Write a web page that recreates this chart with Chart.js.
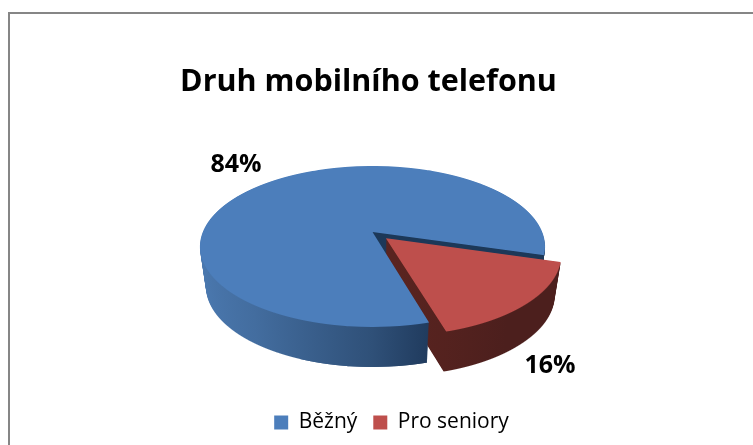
<!DOCTYPE html>
<html><head><meta charset="utf-8">
<style>html,body{margin:0;padding:0;background:#fff}canvas{display:block}</style>
<script src="https://cdn.jsdelivr.net/npm/chart.js@4"></script>
</head><body><canvas id="c" width="753" height="445"></canvas>
<script>
const titleText = 'Druh mobilního telefonu';
const categories = ['Běžný', 'Pro seniory'];
const shares = [84, 16];
const seriesColors = ['#4c7ebb', '#be4f4c'];
const explode = [0, 0.11];

// projection of the flat pie disc onto the tilted 3D view
const view = {x0: 372.5, y0: 232, A: 169.7, B: 77.9, k: 0.18, depth: 40, shrink: 0.035};
const font = '"Open Sans", sans-serif';

function drawRowed(ctx, arc, color, ex, ey, h) {
  const R = arc.outerRadius, W = ctx.canvas.width;
  const y0 = view.y0 + view.depth * h, A = view.A * (1 - view.shrink * h);
  const saved = arc.options, o = Object.create(saved);
  arc.options = o;
  for (let Y = Math.floor(y0 - 75); Y < y0 + 125; Y++) {
    const t = (Y + 0.5 - y0) / view.B, v0 = t / (1 + view.k * t), w = 1 - view.k * v0;
    const c = typeof color === 'function' ? color(v0) : color;
    if (!c) continue;
    Object.defineProperty(o, 'backgroundColor', {value: c, configurable: true});
    const a = A / (w * R), d = view.B / (w * w * R);
    ctx.save();
    ctx.setTransform(1, 0, 0, 1, 0, 0);
    ctx.beginPath(); ctx.rect(0, Y, W, 1); ctx.clip();
    ctx.setTransform(a, 0, 0, d,
      view.x0 + a * (ex * R - arc.x),
      Y + 0.5 + d * (ey * R - arc.y - v0 * R));
    arc.draw(ctx);
    ctx.restore();
  }
  arc.options = saved;
}

const pie3d = {
  id: 'pie3d',
  beforeDraw(chart) {
    const g = chart.ctx;
    g.save();
    g.fillStyle = '#fff'; g.fillRect(0, 0, 753, 445);
    g.fillStyle = '#868686';
    g.fillRect(8, 12, 745, 2); g.fillRect(8, 12, 2, 433);
    g.restore();
  },
  afterLayout(chart) {
    chart.titleBlock.left -= 8; chart.titleBlock.right -= 8;
    chart.legend.left += 15; chart.legend.right += 15;
  },
  beforeDatasetsDraw(chart) {
    const ctx = chart.ctx, arcs = chart.getDatasetMeta(0).data;
    const blue = arcs[0], red = arcs[1], R = blue.outerRadius;
    const mid = (red.startAngle + red.endAngle) / 2;
    const ex = explode[1] * Math.cos(mid), ey = explode[1] * Math.sin(mid);
    const grad = (x1, x2, stops) => {
      const g = ctx.createLinearGradient(x1, 0, x2, 0);
      stops.forEach(s => g.addColorStop(s[0], s[1]));
      return g;
    };
    const NAVY = '#1c3858';
    const x1 = blue.x - R, x2 = blue.x + R * 0.32, u0 = R / (x2 - x1);
    const outer = [[0, '#4b79b0'], [0.3, '#436d9f'], [u0, '#2f5078'], [1, '#1e385a']];
    const blueWall = grad(x1, x2, outer);
    const blueInner = grad(x1, x2, [[0, '#4b79b0'], [0.3, '#436d9f'], [u0, '#2f5078'], [u0 + 0.001, NAVY], [1, NAVY]]);
    const steps = view.depth;
    for (let i = steps; i >= 1; i--) drawRowed(ctx, blue, v => v < 0.9 ? blueInner : blueWall, 0, 0, i / steps);
    const redWall = grad(red.x + R * 0.05, red.x + R * 0.6, [[0, '#5a2420'], [1, '#4c1f1d']]);
    for (let i = steps; i >= 1; i--) drawRowed(ctx, red, redWall, ex, ey, i / steps);
    for (let i = steps; i >= 1; i--) drawRowed(ctx, blue, v => v >= 0.93 ? blueWall : null, 0, 0, i / steps);
    drawRowed(ctx, blue, seriesColors[0], 0, 0, 0);
    drawRowed(ctx, red, seriesColors[1], ex, ey, 0);
    return false;
  },
  afterDraw(chart) {
    const g = chart.ctx;
    g.save();
    g.font = 'bold 25px ' + font; g.fillStyle = '#000';
    g.textAlign = 'center'; g.textBaseline = 'middle';
    g.fillText(shares[0] + '%', 236, 165);
    g.fillText(shares[1] + '%', 550, 366);
    g.restore();
  }
};

new Chart(document.getElementById('c'), {
  type: 'pie',
  data: {labels: categories, datasets: [{data: shares, backgroundColor: seriesColors, borderWidth: 0}]},
  options: {
    responsive: false, animation: false, rotation: 164,
    layout: {padding: {top: 12, bottom: 2, left: 0, right: 0}},
    plugins: {
      title: {display: true, text: titleText, color: '#000',
        font: {family: font, size: 30.5, weight: 'bold'}, padding: {top: 52, bottom: 10}},
      legend: {position: 'bottom', labels: {color: '#000', boxWidth: 14, boxHeight: 14,
        font: {family: font, size: 21}, padding: 16}},
      tooltip: {enabled: false}
    }
  },
  plugins: [pie3d]
});
</script></body></html>
